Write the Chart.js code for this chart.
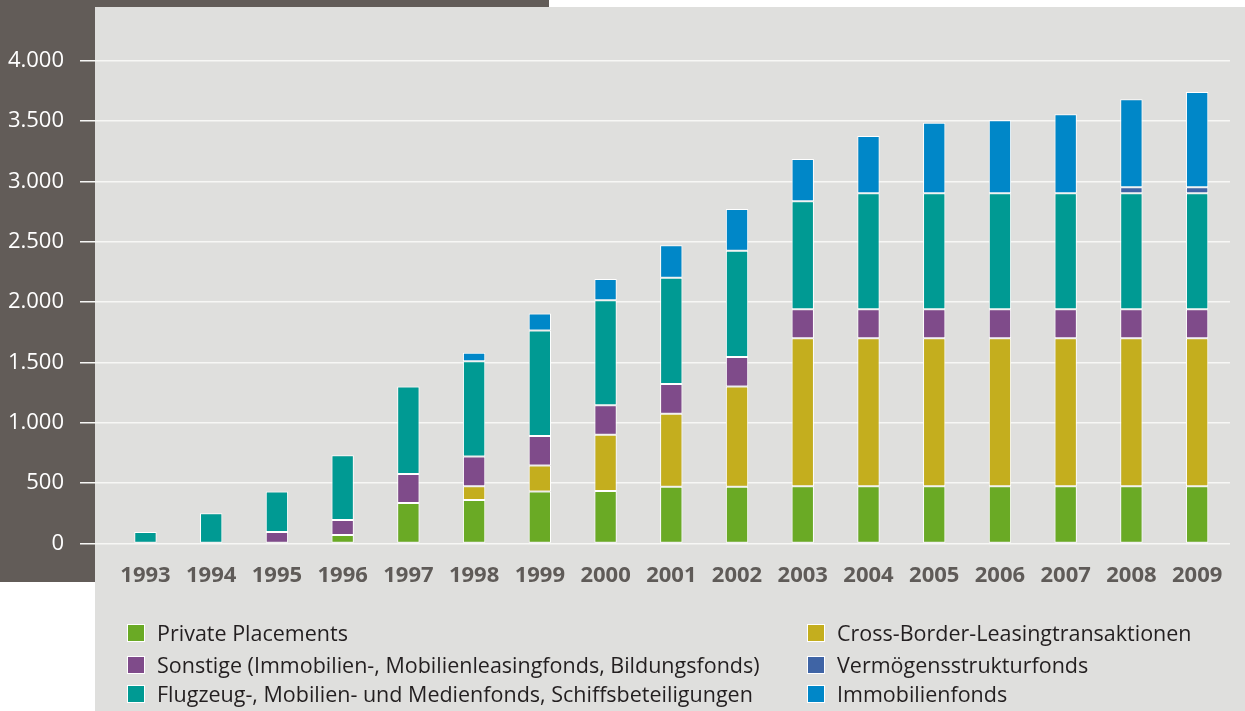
<!DOCTYPE html>
<html>
<head>
<meta charset="utf-8">
<script src="https://cdn.jsdelivr.net/npm/chart.js@4"></script>
<style>
  html, body { margin:0; padding:0; background:#ffffff; }
  #wrap { position:relative; width:1245px; height:711px; overflow:hidden; background:#ffffff; }
  #darkTop { position:absolute; left:0; top:0; width:549px; height:7px; background:#625c58; }
  #darkLeft { position:absolute; left:0; top:0; width:95px; height:582px; background:#625c58; }
  #light { position:absolute; left:95px; top:7px; width:1150px; height:704px; background:#dfdfdd; }
  #chartBox { position:absolute; left:0; top:0; width:1245px; height:711px; }
  .lg { position:absolute; font-family:"Open Sans", sans-serif; font-size:21.5px; color:#231f20; white-space:nowrap; line-height:26px; }
  .sw { position:absolute; width:16px; height:16px; border:1px solid #ffffff; }
</style>
</head>
<body>
<div id="wrap">
  <div id="darkTop"></div>
  <div id="darkLeft"></div>
  <div id="light"></div>
  <div id="chartBox"><canvas id="c" width="1245" height="711"></canvas></div>
  <div id="legend"></div>
</div>
<script>
const years = ["1993","1994","1995","1996","1997","1998","1999","2000","2001","2002","2003","2004","2005","2006","2007","2008","2009"];

const privatePlacements = [null,null,null,70,335,360,430,435,470,470,475,475,475,475,475,475,475];
const crossBorder       = [null,null,null,null,null,115,215,465,605,830,1225,1225,1225,1225,1225,1225,1225];
const sonstige          = [null,null,95,125,240,245,245,245,245,245,240,240,240,240,240,240,240];
const flugzeug          = [95,250,335,535,725,790,875,870,880,880,895,960,960,960,960,960,960];
const vermoegen         = [null,null,null,null,null,null,null,null,null,null,null,null,null,null,null,50,50];
const immobilien        = [null,null,null,null,null,70,140,175,270,345,350,475,585,605,655,730,790];

const seriesLabels = [
  "Private Placements",
  "Cross-Border-Leasingtransaktionen",
  "Sonstige (Immobilien-, Mobilienleasingfonds, Bildungsfonds)",
  "Flugzeug-, Mobilien- und Medienfonds, Schiffsbeteiligungen",
  "Vermögensstrukturfonds",
  "Immobilienfonds"
];
const seriesColors = ["#6aaa25","#c4ae1e","#7f4b8a","#009a93","#3f64a5","#0087c8"];
const seriesValues = [privatePlacements, crossBorder, sonstige, flugzeug, vermoegen, immobilien];

const yTickMax = 4000;
const yTickStep = 500;

function fmtDE(v){
  return String(v).replace(/\B(?=(\d{3})+(?!\d))/g, ".");
}

const datasets = seriesValues.map((vals, i) => ({
  label: seriesLabels[i],
  data: vals,
  backgroundColor: seriesColors[i],
  borderColor: "#ffffff",
  borderWidth: 1,
  borderSkipped: false,
  barPercentage: 0.34,
  categoryPercentage: 1.0
}));

new Chart(document.getElementById("c"), {
  type: "bar",
  data: { labels: years, datasets: datasets },
  options: {
    responsive: false,
    animation: false,
    devicePixelRatio: 1,
    layout: { padding: { left: 0, right: 15, top: 60.5, bottom: 107.5 } },
    plugins: { legend: { display: false }, tooltip: { enabled: false } },
    scales: {
      x: {
        stacked: true,
        grid: { display: false },
        border: { display: false },
        ticks: {
          color: "#5f5b58",
          font: { family: "'Open Sans', sans-serif", size: 22, weight: "bold" },
          padding: 11,
          maxRotation: 0,
          autoSkip: false
        },
        afterFit: (s) => { s.height = 60; }
      },
      y: {
        stacked: true,
        min: 0,
        max: yTickMax,
        border: { display: false },
        grid: {
          color: "#f7f7f5",
          lineWidth: 1.5,
          drawTicks: true,
          tickLength: 32.6,
          tickColor: "#f7f7f5"
        },
        ticks: {
          stepSize: yTickStep,
          color: "#ffffff",
          padding: 16,
          font: { family: "'Open Sans', sans-serif", size: 22 },
          callback: (v) => fmtDE(v)
        },
        afterFit: (s) => { s.width = 112.6; }
      }
    }
  }
});

// HTML legend built from the series arrays
const legendOrder = [
  { idx: 0, col: 0, row: 0 },
  { idx: 2, col: 0, row: 1 },
  { idx: 3, col: 0, row: 2 },
  { idx: 1, col: 1, row: 0 },
  { idx: 4, col: 1, row: 1 },
  { idx: 5, col: 1, row: 2 }
];
const colSwatchX = [127, 807];
const colTextX = [157, 837];
const rowCenterY = [633, 664.5, 694];
const lg = document.getElementById("legend");
legendOrder.forEach(o => {
  const sw = document.createElement("div");
  sw.className = "sw";
  sw.style.left = colSwatchX[o.col] + "px";
  sw.style.top = (rowCenterY[o.row] - 9) + "px";
  sw.style.background = seriesColors[o.idx];
  lg.appendChild(sw);
  const t = document.createElement("div");
  t.className = "lg";
  t.style.left = colTextX[o.col] + "px";
  t.style.top = (rowCenterY[o.row] - 13) + "px";
  t.textContent = seriesLabels[o.idx];
  lg.appendChild(t);
});
</script>
</body>
</html>
